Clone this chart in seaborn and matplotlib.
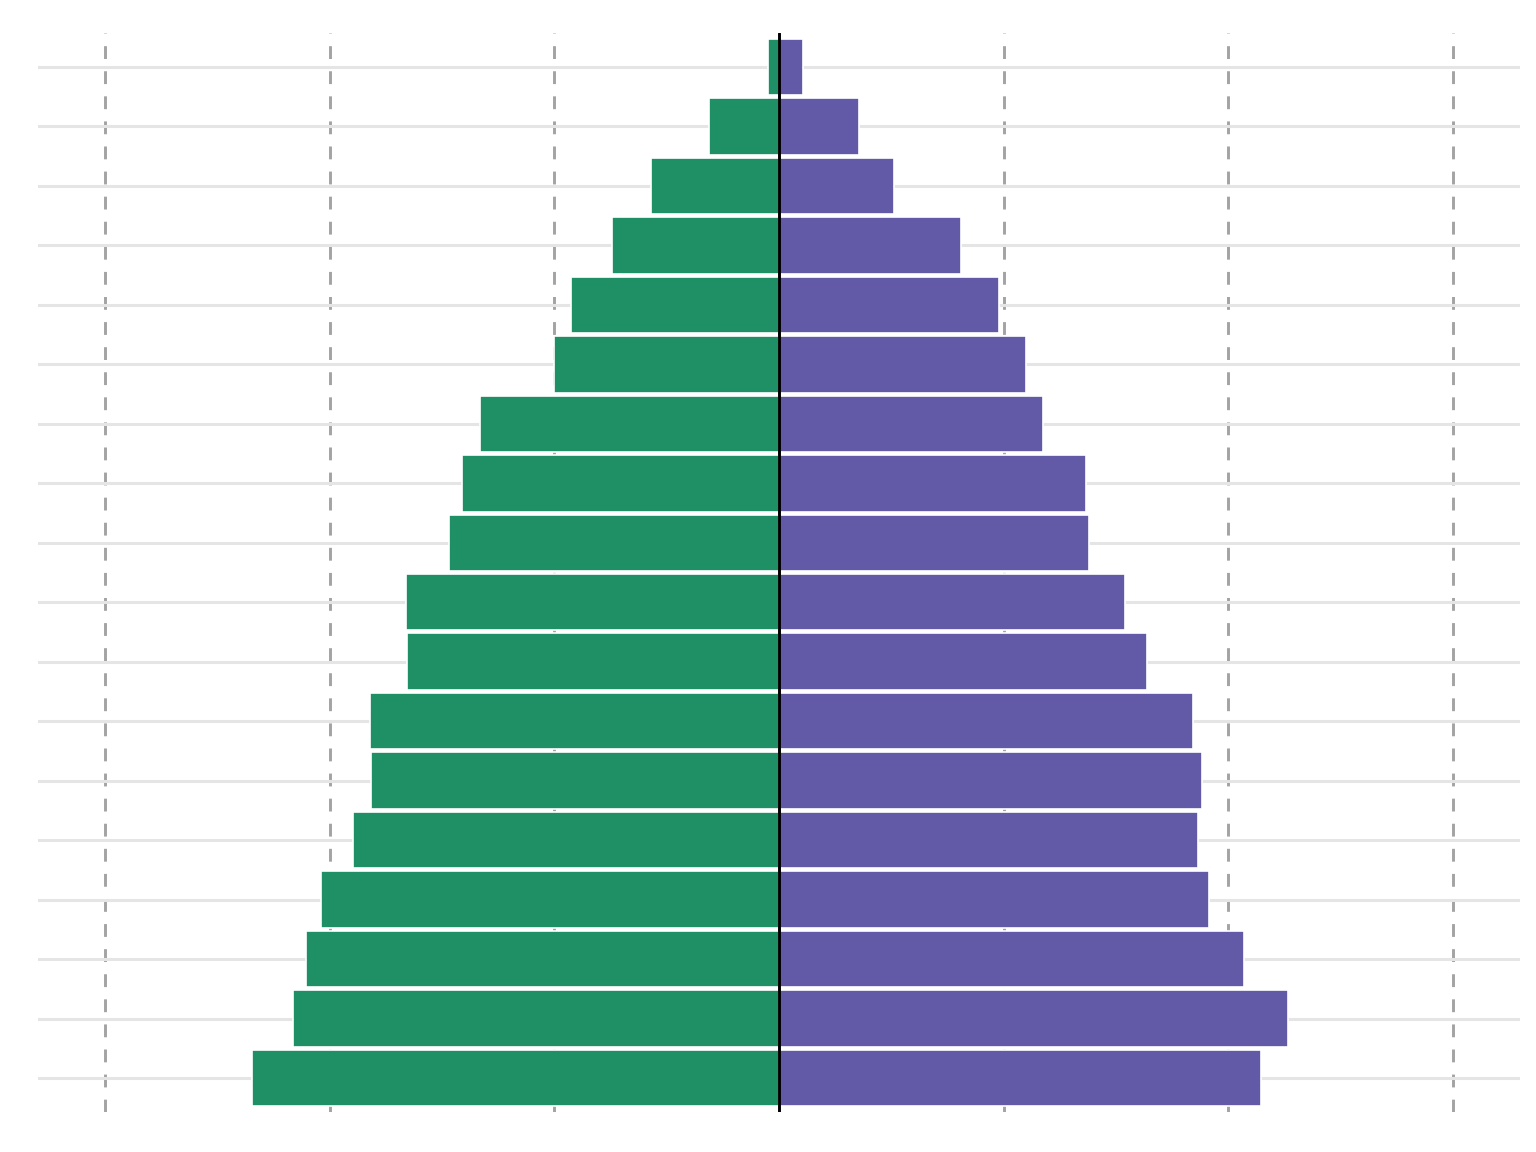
import pandas as pd
import seaborn as sns
import matplotlib.pyplot as plt

# age groups, oldest at the top
age_groups = ['85+', '80-84', '75-79', '70-74', '65-69', '60-64', '55-59', '50-54',
              '45-49', '40-44', '35-39', '30-34', '25-29', '20-24', '15-19',
              '10-14', '5-9', '0-4']
left_values = [0.05, 0.31, 0.57, 0.745, 0.925, 1.00, 1.33, 1.41, 1.47, 1.66,
               1.655, 1.82, 1.815, 1.895, 2.04, 2.105, 2.165, 2.345]
right_values = [0.105, 0.355, 0.51, 0.81, 0.98, 1.10, 1.175, 1.365, 1.38, 1.54,
                1.64, 1.845, 1.885, 1.865, 1.915, 2.07, 2.265, 2.145]
x_ticks = [-3, -2, -1, 0, 1, 2, 3]

GREEN = '#1f8f66'
PURPLE = '#625aa6'


def main():
    sns.set_style("white")
    df = pd.DataFrame({'age': age_groups,
                       'left': [-v for v in left_values],
                       'right': right_values})

    fig = plt.figure(figsize=(15.36, 11.52), dpi=100)
    ax = fig.add_axes([38 / 1536, 1 - 1112 / 1152, (1520 - 38) / 1536, (1112 - 33) / 1152])

    sns.barplot(data=df, x='left', y='age', orient='h', color=GREEN, width=0.95,
                saturation=1, edgecolor='white', linewidth=1.2, ax=ax, zorder=3)
    sns.barplot(data=df, x='right', y='age', orient='h', color=PURPLE, width=0.95,
                saturation=1, edgecolor='white', linewidth=1.2, ax=ax, zorder=3)

    ax.set_xlim(-3.3, 3.3)
    ax.set_ylim(len(age_groups) - 0.43, -0.57)
    ax.set_xticks(x_ticks)

    ax.set_axisbelow(True)
    ax.yaxis.grid(True, color='#e5e5e5', linewidth=2.2, linestyle='-')
    ax.xaxis.grid(True, color='#a3a3a3', linewidth=2.1, linestyle=(0, (4.4, 4.2)))
    ax.axvline(0, color='black', linewidth=2.1, zorder=5)

    ax.set_xlabel('')
    ax.set_ylabel('')
    ax.tick_params(axis='both', length=0, labelbottom=False, labelleft=False)
    sns.despine(ax=ax, left=True, bottom=True)

    fig.savefig('out.png', dpi=100)


if __name__ == "__main__":
    main()
